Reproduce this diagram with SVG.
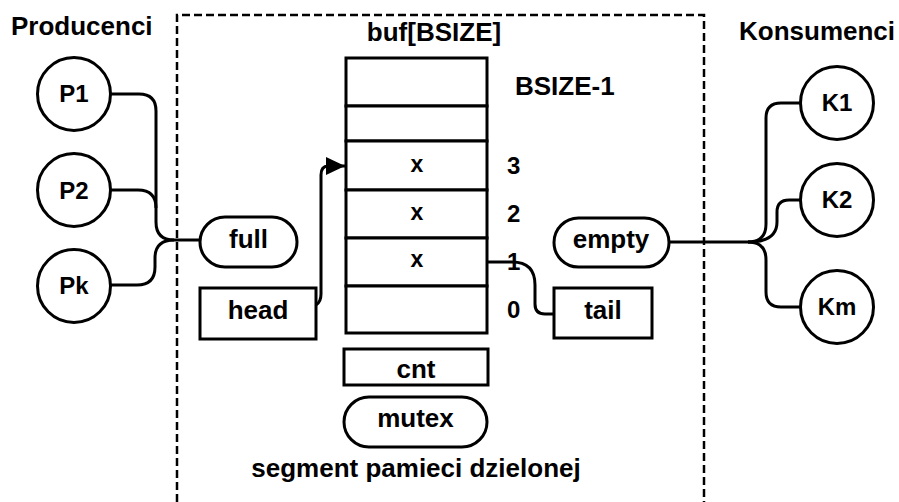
<svg xmlns="http://www.w3.org/2000/svg" width="899" height="502" viewBox="0 0 899 502">
<style>
  .s{fill:#fff;stroke:#000;stroke-width:3}
  .t{font-family:"Liberation Sans",Arial,sans-serif;font-weight:bold;font-size:26px;fill:#000}
  .n{font-size:24px}
  .x{font-size:23px}
  .c{text-anchor:middle}
  .w{fill:none;stroke:#000;stroke-width:3}
</style>
<defs>
  <marker id="arr" markerUnits="userSpaceOnUse" viewBox="0 0 19 18" refX="19" refY="9" markerWidth="19" markerHeight="18" orient="auto">
    <path d="M0 0 L19 9 L0 18 Z" fill="#000"/>
  </marker>
</defs>
<rect width="899" height="502" fill="#fff"/>
<g id="segment">
  <path d="M177 502 V15 H704 V502" fill="none" stroke="#000" stroke-width="2.5" stroke-dasharray="8 4"/>
  <text class="t c" x="416" y="477">segment pamieci dzielonej</text>
</g>
<text class="t" x="11" y="35">Producenci</text>
<text class="t" x="739" y="40">Konsumenci</text>
<g id="connectors">
  <path class="w" d="M111 94 H139 Q156 94 156 111 V222 Q156 240 174 240 H200"/>
  <path class="w" d="M111 190 H138 Q156 190 156 208"/>
  <path class="w" d="M111 285 H137 Q155 285 155 267 V258 Q155 240 174 240"/>
  <path class="w" d="M669 242 H748"/>
  <path class="w" d="M748 242 Q766 242 766 224 V118 Q766 103 781 103 H801"/>
  <path class="w" d="M748 242 Q777 242 777 222 V212 Q777 200 789 200 H801"/>
  <path class="w" d="M748 242 Q766 242 766 260 V292 Q766 307 781 307 H801"/>
  <path class="w" d="M316 305 Q321 302 321 294 V175 Q321 166 328 166 H345" marker-end="url(#arr)"/>
  <path class="w" d="M487 262 H512 Q535 262 535 285 V304 Q535 314 545 314 H554"/>
</g>
<g id="P1"><circle class="s" cx="74" cy="94" r="36.5"/><text class="t n c" x="74" y="102">P1</text></g>
<g id="P2"><circle class="s" cx="74" cy="190" r="36.5"/><text class="t n c" x="74" y="199">P2</text></g>
<g id="Pk"><circle class="s" cx="74" cy="286" r="36.5"/><text class="t n c" x="74" y="294">Pk</text></g>
<g id="K1"><circle class="s" cx="837" cy="103" r="36.5"/><text class="t n c" x="837" y="111">K1</text></g>
<g id="K2"><circle class="s" cx="837" cy="200" r="36.5"/><text class="t n c" x="837" y="208">K2</text></g>
<g id="Km"><circle class="s" cx="837" cy="307" r="36.5"/><text class="t n c" x="837" y="315">Km</text></g>
<g id="full"><rect class="s" x="200" y="217" width="97" height="50" rx="25"/><text class="t c" x="248.5" y="248">full</text></g>
<g id="empty"><rect class="s" x="554" y="218" width="115" height="49" rx="24.5"/><text class="t c" x="611" y="248">empty</text></g>
<g id="head"><rect class="s" x="200" y="288" width="116" height="51"/><text class="t c" x="258" y="319">head</text></g>
<g id="tail"><rect class="s" x="554" y="288" width="98" height="50"/><text class="t c" x="603" y="319">tail</text></g>
<g id="buf">
  <text class="t c" x="434" y="41">buf[BSIZE]</text>
  <rect class="s" x="346" y="58" width="141" height="48"/>
  <rect class="s" x="346" y="106" width="141" height="35"/>
  <rect class="s" x="346" y="141" width="141" height="49"/>
  <rect class="s" x="346" y="190" width="141" height="48"/>
  <rect class="s" x="346" y="238" width="141" height="48"/>
  <rect class="s" x="346" y="286" width="141" height="47"/>
  <text class="t x c" x="417" y="172">x</text>
  <text class="t x c" x="417" y="220">x</text>
  <text class="t x c" x="417" y="267">x</text>
  <text class="t" x="515" y="95">BSIZE-1</text>
  <text class="t n" x="507" y="174">3</text>
  <text class="t n" x="507" y="222">2</text>
  <text class="t n" x="507" y="270">1</text>
  <text class="t n" x="507" y="318">0</text>
</g>
<g id="cnt"><rect class="s" x="344" y="349" width="144" height="36"/><text class="t c" x="416" y="378">cnt</text></g>
<g id="mutex"><rect class="s" x="344" y="397" width="143" height="50" rx="25"/><text class="t c" x="415.5" y="427">mutex</text></g>
</svg>
